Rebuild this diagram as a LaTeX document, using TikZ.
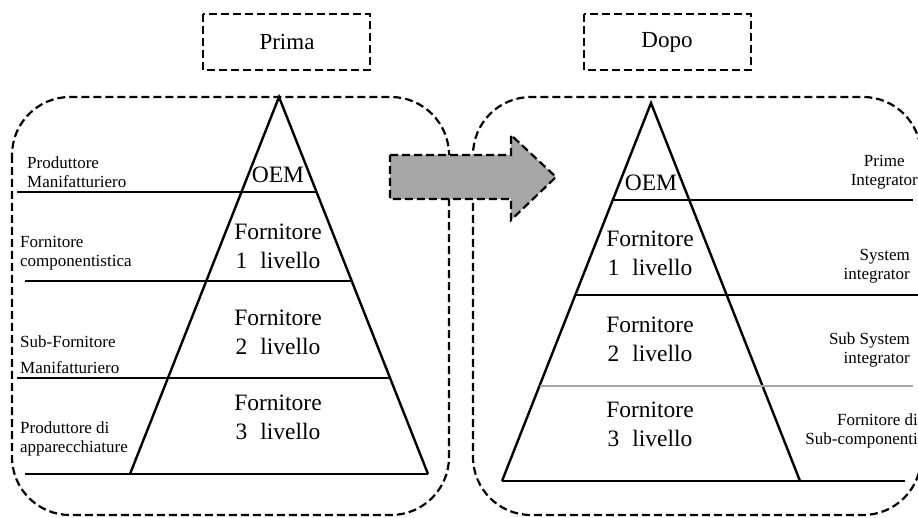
\documentclass[tikz,border=0pt]{standalone}
\usepackage{fontspec}
\setmainfont{Liberation Serif}
\begin{document}
\begin{tikzpicture}[x=1pt,y=-1pt,
  dbox/.style={draw=black,line width=2.2pt,dash pattern=on 8pt off 4pt},
  pyr/.style={draw=black,line width=2.4pt,line join=miter},
  hline/.style={draw=black,line width=2.2pt},
  big/.style={font=\fontsize{23.5}{29}\selectfont,align=center,inner sep=0pt},
  small/.style={font=\fontsize{17}{18.5}\selectfont,inner sep=0pt},
  title/.style={font=\fontsize{23}{24}\selectfont,inner sep=0pt}]
\useasboundingbox (0,0) rectangle (918,518);
% titles
\draw[dbox] (203,14) rectangle (370,70);
\node[title] (prima) at (287,42) {Prima};
\draw[dbox] (584,14) rectangle (751,70);
\node[title] (dopo) at (667,42) {Dopo};
% outer boxes
\draw[dbox,rounded corners=58pt] (12,97) rectangle (449,515);
\draw[dbox,rounded corners=58pt] (473,97) rectangle (921,515);
% left pyramid
\draw[pyr] (130,474) -- (279,97) -- (428,474);
\draw[hline] (17,192) -- (316.5,192);
\draw[hline] (25,281) -- (351.7,281);
\draw[hline] (17,378) -- (390,378);
\draw[hline] (25,474) -- (428,474);
\node[big] (loem) at (278,175) {OEM};
\node[big] (lf1) at (278,246) {Fornitore\\1\hspace{0.55em}livello};
\node[big] (lf2) at (278,332) {Fornitore\\2\hspace{0.55em}livello};
\node[big] (lf3) at (278,417) {Fornitore\\3\hspace{0.55em}livello};
\node[small,anchor=west,align=left] (l1) at (27,172) {Produttore\\Manifatturiero};
\node[small,anchor=west,align=left] (l2) at (20,253) {Fornitore\\componentistica};
\node[small,anchor=west,align=left,font=\fontsize{17}{26}\selectfont] (l3) at (20,355) {Sub-Fornitore\\Manifatturiero};
\node[small,anchor=west,align=left] (l4) at (20,439) {Produttore di\\apparecchiature};
% right pyramid
\draw[pyr] (502,481) -- (651,103) -- (800,481);
\draw[draw=black,line width=1.2pt] (612.8,200) -- (913,200);
\draw[hline] (575.3,295) -- (918,295);
\draw[draw=gray!70,line width=1.4pt] (539.5,386) -- (913,386);
\draw[hline] (502,481) -- (905,481);
\node[big] (roem) at (651,183) {OEM};
\node[big] (rf1) at (650,253) {Fornitore\\1\hspace{0.55em}livello};
\node[big] (rf2) at (650,339) {Fornitore\\2\hspace{0.55em}livello};
\node[big] (rf3) at (650,424) {Fornitore\\3\hspace{0.55em}livello};
\node[small,anchor=east,align=center] (r1) at (918,172) {Prime\\Integrator};
\node[small,anchor=east,align=right] (r2) at (910,266) {System\\integrator};
\node[small,anchor=east,align=right] (r3) at (910,350) {Sub System\\integrator};
\node[small,anchor=east,align=right] (r4) at (918,431) {Fornitore di\\Sub-componenti};
% arrow
\draw[dbox,fill=gray!70,line join=miter] (390,155) -- (511,155) -- (511,135) -- (556,177) -- (511,220) -- (511,199) -- (390,199) -- cycle;
\end{tikzpicture}
\end{document}
